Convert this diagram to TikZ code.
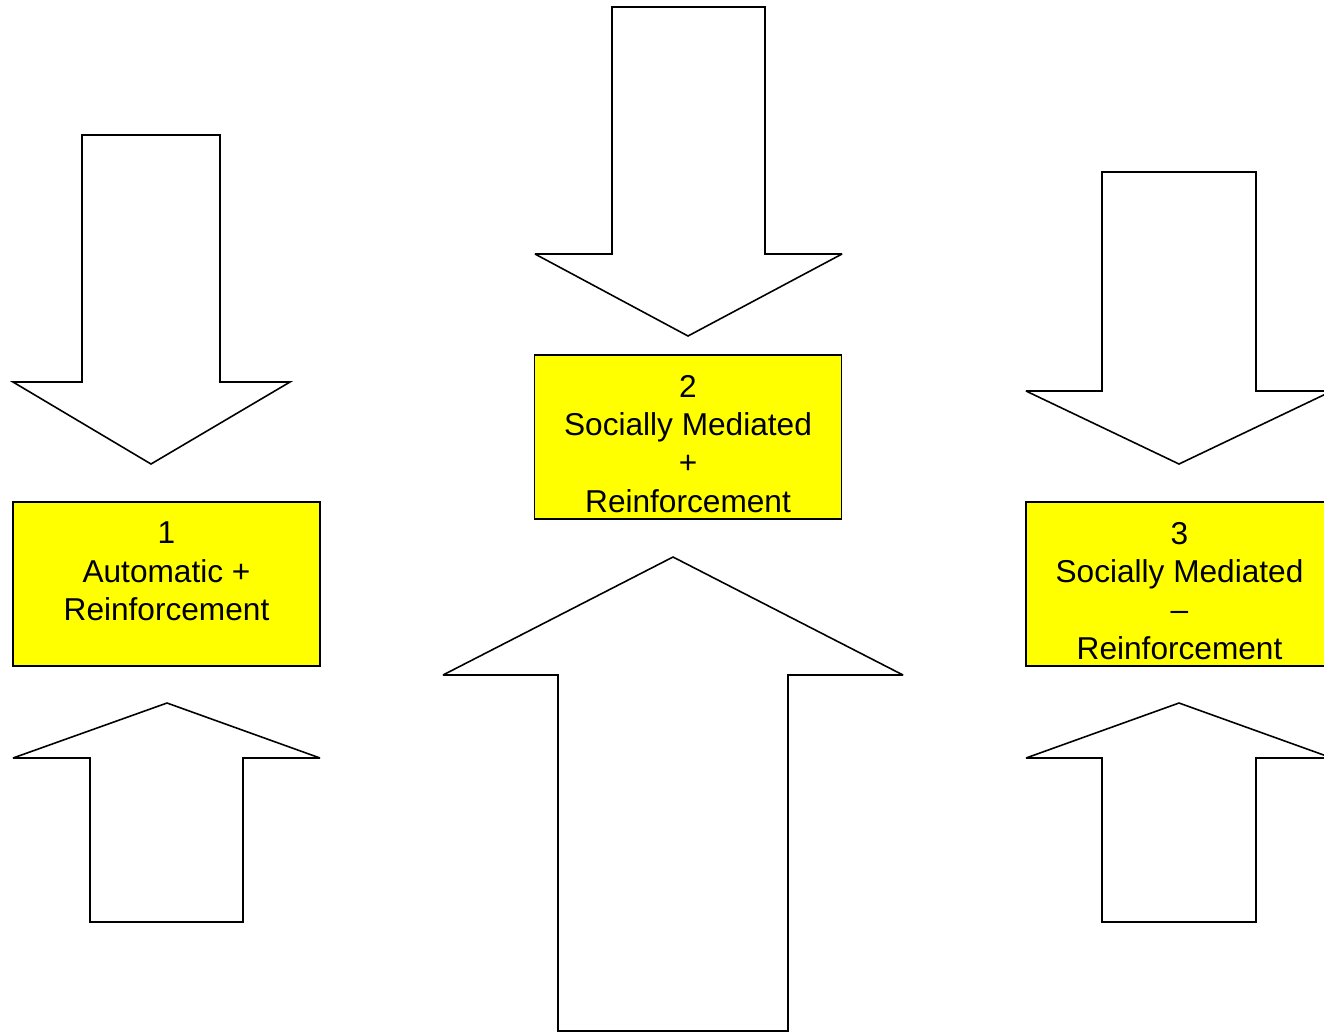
\documentclass[tikz,border=0pt]{standalone}
\usepackage{fontspec}
\setmainfont{Liberation Sans}
\usepackage{xcolor}
\usepackage{tikz}
\usetikzlibrary{positioning}
\definecolor{boxyellow}{RGB}{255,255,0}

\begin{document}
\begin{tikzpicture}[x=0.02cm,y=-0.02cm,node distance=1cm,
                    block arrow/.style={draw=black,fill=white,line width=0.9pt,line join=miter,miter limit=4},
                    reinf box/.style={rectangle,draw=black,fill=boxyellow,line width=0.9pt,minimum width=6.14cm,minimum height=3.28cm,inner sep=0pt},
                    box text/.style={align=center,inner sep=0pt,font=\fontsize{18pt}{21.8pt}\selectfont}]
  \useasboundingbox (0,0) rectangle (1324,1032);
  \clip (0,0) rectangle (1324,1032);
%first section
  \draw[block arrow] (82,135) -- (220,135) -- (220,382) -- (290,382) -- (151,464) -- (13,382) -- (82,382) -- cycle;
  \node[reinf box] (box1) at (166.5,584) {};
  \node[box text,below=0.41cm of box1.north] (text1) {1\\Automatic +\\Reinforcement};
  \draw[block arrow] (90,922) -- (90,758) -- (13,758) -- (167,703) -- (320,758) -- (243,758) -- (243,922) -- cycle;
%second section
  \draw[block arrow] (612,7) -- (765,7) -- (765,254) -- (842,254) -- (688,336) -- (535,254) -- (612,254) -- cycle;
  \node[reinf box] (box2) at (688,437) {};
  \node[box text,below=0.41cm of box2.north] (text2) {2\\Socially Mediated\\+\\Reinforcement};
  \draw[block arrow] (558,1031) -- (558,675) -- (443,675) -- (673,557) -- (903,675) -- (788,675) -- (788,1031) -- cycle;
%third section
  \draw[block arrow] (1102,172) -- (1256,172) -- (1256,391) -- (1332,391) -- (1179,464) -- (1026,391) -- (1102,391) -- cycle;
  \node[reinf box] (box3) at (1179.5,584) {};
  \node[box text,below=0.41cm of box3.north] (text3) {3\\Socially Mediated\\--\\Reinforcement};
  \draw[block arrow] (1102,922) -- (1102,758) -- (1026,758) -- (1179,703) -- (1332,758) -- (1256,758) -- (1256,922) -- cycle;
\end{tikzpicture}
\end{document}
